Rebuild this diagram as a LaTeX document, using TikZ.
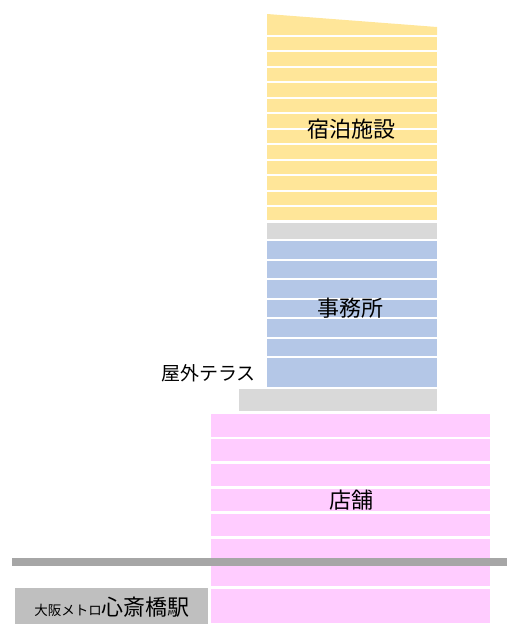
\documentclass[tikz,border=0pt]{standalone}
\usepackage{fontspec}
\usepackage{xcolor}
\newfontfamily\jpfont{Noto Sans CJK JP}
\usetikzlibrary{positioning, calc}
\definecolor{hotelyellow}{RGB}{255,230,153}
\definecolor{officeblue}{RGB}{180,199,231}
\definecolor{shoppink}{RGB}{255,204,255}
\definecolor{floorgray}{RGB}{217,217,217}
\definecolor{railgray}{RGB}{166,166,166}
\definecolor{stationgray}{RGB}{191,191,191}

\begin{document}
\begin{tikzpicture}[x=1pt, y=-1pt]
\useasboundingbox (0,0) rectangle (518,634);
% hotel floors
\fill[hotelyellow] (267,14) -- (437,27) -- (437,35) -- (267,35) -- cycle;
\foreach \i in {0,...,11} {
    \fill[hotelyellow] (267,{37+15.45*\i}) rectangle (437,{50.5+15.45*\i});
}
\fill[floorgray] (267,223) rectangle (437,239);
% office floors
\foreach \i in {0,...,5} {
    \fill[officeblue] (267,{241+19.5*\i}) rectangle (437,{258.5+19.5*\i});
}
\fill[officeblue] (267,358) rectangle (437,387);
\fill[floorgray] (239,389) rectangle (437,411);
% shop floors
\foreach \i in {0,...,6} {
    \fill[shoppink] (211,{414+24.9*\i}) rectangle (490,{436.5+24.9*\i});
}
\fill[shoppink] (211,588.5) rectangle (490,623);
\fill[railgray] (12,558) rectangle (507,566);
\fill[stationgray] (15,588) rectangle (208,624);
\node[font=\jpfont\fontsize{22}{22}\selectfont] (hotel) at (351,129) {宿泊施設};
\node[font=\jpfont\fontsize{22}{22}\selectfont] (office) at (350,308) {事務所};
\node[font=\jpfont\fontsize{19}{19}\selectfont, anchor=east, inner sep=0pt] (terrace) at (256,373) {屋外テラス};
\node[font=\jpfont\fontsize{22}{22}\selectfont] (shop) at (351,500) {店舗};
\node[font=\jpfont, inner sep=0pt] (station) at (112,607) {{\fontsize{13.5}{14}\selectfont 大阪メトロ}{\fontsize{22}{22}\selectfont 心斎橋駅}};
\end{tikzpicture}
\end{document}
